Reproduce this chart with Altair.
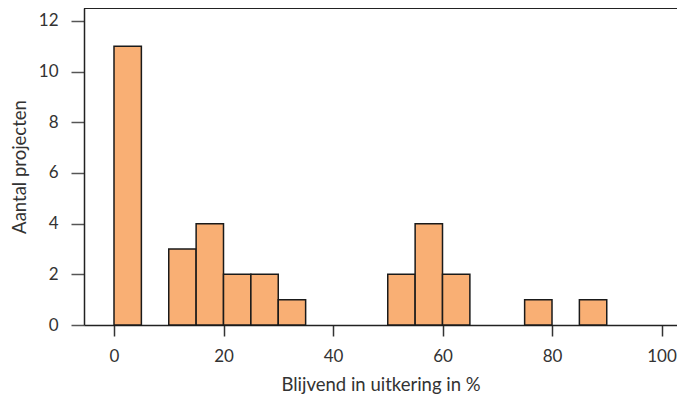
import altair as alt
import pandas as pd

bin_start = [0, 10, 15, 20, 25, 30, 50, 55, 60, 75, 85]
bin_width = 5
counts = [11, 3, 4, 2, 2, 1, 2, 4, 2, 1, 1]
x_ticks = [0, 20, 40, 60, 80, 100]
y_ticks = [0, 2, 4, 6, 8, 10, 12]

df = pd.DataFrame({
    "start": bin_start,
    "end": [s + bin_width for s in bin_start],
    "count": counts,
})

FONT = "Lato"
W, H = 593, 317
XDOM = [-5.48, 102.83]
YDOM = [0, 12.51]

bars = alt.Chart(df).mark_rect(
    fill="#F9AF74", stroke="#1a1a1a", strokeWidth=1.5
).encode(
    x=alt.X("start:Q", scale=alt.Scale(domain=XDOM, nice=False, zero=False),
            axis=alt.Axis(values=x_ticks, title="Blijvend in uitkering in %",
                          grid=False, tickSize=11, labelPadding=12,
                          titlePadding=11, domainColor="#222", domainWidth=1.5,
                          tickColor="#333", tickWidth=1.5)),
    x2="end:Q",
    y=alt.Y("count:Q", scale=alt.Scale(domain=YDOM, nice=False),
            axis=alt.Axis(values=y_ticks, title="Aantal projecten",
                          grid=False, tickSize=13, labelPadding=13,
                          titlePadding=9, domainColor="#222", domainWidth=1.5,
                          tickColor="#555", tickWidth=1.5)),
    y2=alt.datum(0),
)

top = alt.Chart(df).mark_rule(color="#222", strokeWidth=2).encode(
    x=alt.value(0), x2=alt.value(W), y=alt.value(0)
)

chart = alt.layer(bars, top).properties(
    width=W, height=H,
    autosize=alt.AutoSizeParams(type="none"),
    padding={"left": 76, "top": 0, "right": 0, "bottom": 71},
).configure_view(stroke=None).configure_axis(
    labelFont=FONT, titleFont=FONT, labelFontSize=17, titleFontSize=18.5,
    labelColor="#333", titleColor="#333", titleFontWeight="normal",
)

chart.save("out.html", embed_options={"renderer": "svg", "actions": False})
